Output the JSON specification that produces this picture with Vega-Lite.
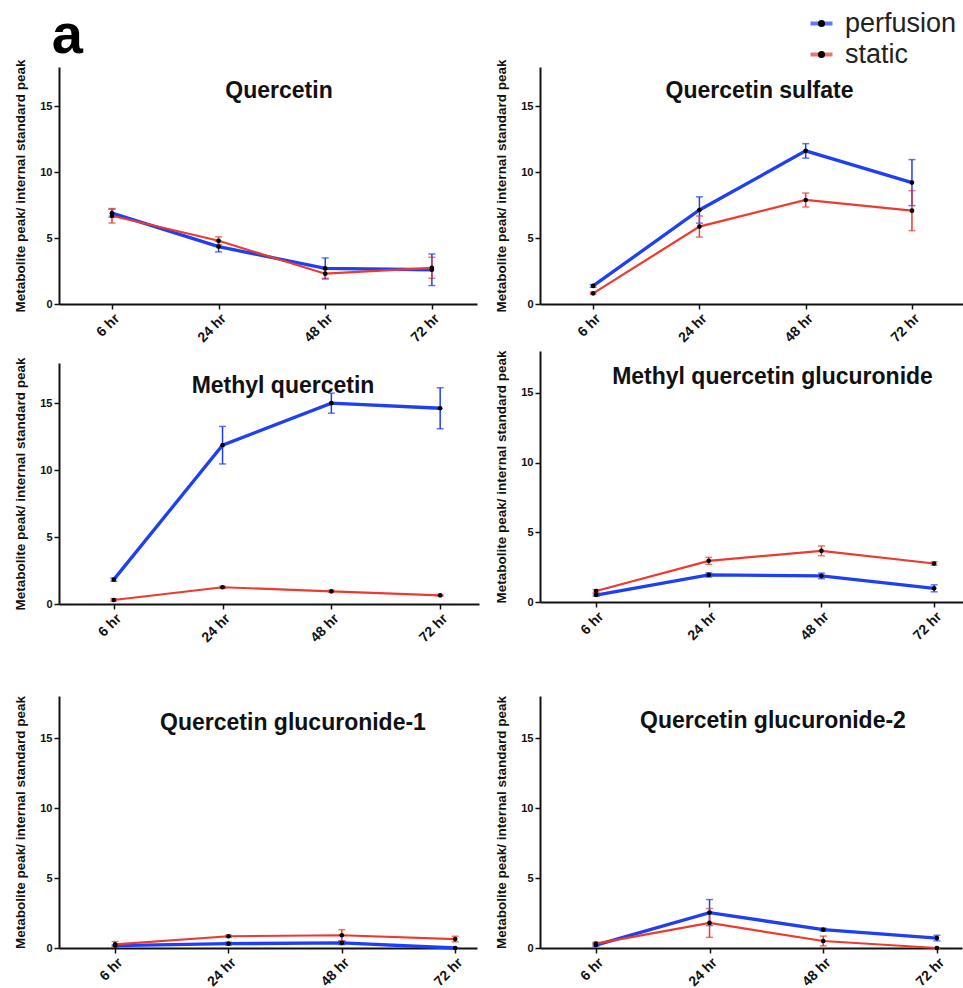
{
  "$schema": "https://vega.github.io/schema/vega-lite/v6.json",
  "background": "white",
  "padding": {"left": 13, "top": 8, "right": 0, "bottom": 0},
  "autosize": {"type": "pad"},
  "title": {"text": "a", "anchor": "start", "fontSize": 56, "fontWeight": "bold", "color": "black", "offset": -55, "dx": 38},
  "data": {"values": [
    {"compound": "Quercetin", "time": "6 hr", "group": "perfusion", "mean": 6.9, "err": 0.3},
    {"compound": "Quercetin", "time": "24 hr", "group": "perfusion", "mean": 4.36, "err": 0.4},
    {"compound": "Quercetin", "time": "48 hr", "group": "perfusion", "mean": 2.7, "err": 0.8},
    {"compound": "Quercetin", "time": "72 hr", "group": "perfusion", "mean": 2.6, "err": 1.2},
    {"compound": "Quercetin", "time": "6 hr", "group": "static", "mean": 6.7, "err": 0.55},
    {"compound": "Quercetin", "time": "24 hr", "group": "static", "mean": 4.8, "err": 0.3},
    {"compound": "Quercetin", "time": "48 hr", "group": "static", "mean": 2.3, "err": 0.35},
    {"compound": "Quercetin", "time": "72 hr", "group": "static", "mean": 2.75, "err": 0.8},
    {"compound": "Quercetin sulfate", "time": "6 hr", "group": "perfusion", "mean": 1.37, "err": 0.1},
    {"compound": "Quercetin sulfate", "time": "24 hr", "group": "perfusion", "mean": 7.14, "err": 1.0},
    {"compound": "Quercetin sulfate", "time": "48 hr", "group": "perfusion", "mean": 11.63, "err": 0.55},
    {"compound": "Quercetin sulfate", "time": "72 hr", "group": "perfusion", "mean": 9.22, "err": 1.75},
    {"compound": "Quercetin sulfate", "time": "6 hr", "group": "static", "mean": 0.81, "err": 0.08},
    {"compound": "Quercetin sulfate", "time": "24 hr", "group": "static", "mean": 5.88, "err": 0.8},
    {"compound": "Quercetin sulfate", "time": "48 hr", "group": "static", "mean": 7.9, "err": 0.53},
    {"compound": "Quercetin sulfate", "time": "72 hr", "group": "static", "mean": 7.09, "err": 1.52},
    {"compound": "Methyl quercetin", "time": "6 hr", "group": "perfusion", "mean": 1.82, "err": 0.12},
    {"compound": "Methyl quercetin", "time": "24 hr", "group": "perfusion", "mean": 11.86, "err": 1.4},
    {"compound": "Methyl quercetin", "time": "48 hr", "group": "perfusion", "mean": 15.0, "err": 0.75},
    {"compound": "Methyl quercetin", "time": "72 hr", "group": "perfusion", "mean": 14.62, "err": 1.53},
    {"compound": "Methyl quercetin", "time": "6 hr", "group": "static", "mean": 0.3, "err": 0.1},
    {"compound": "Methyl quercetin", "time": "24 hr", "group": "static", "mean": 1.25, "err": 0.08},
    {"compound": "Methyl quercetin", "time": "48 hr", "group": "static", "mean": 0.95, "err": 0.08},
    {"compound": "Methyl quercetin", "time": "72 hr", "group": "static", "mean": 0.65, "err": 0.06},
    {"compound": "Methyl quercetin glucuronide", "time": "6 hr", "group": "perfusion", "mean": 0.5, "err": 0.08},
    {"compound": "Methyl quercetin glucuronide", "time": "24 hr", "group": "perfusion", "mean": 1.94, "err": 0.15},
    {"compound": "Methyl quercetin glucuronide", "time": "48 hr", "group": "perfusion", "mean": 1.87, "err": 0.2},
    {"compound": "Methyl quercetin glucuronide", "time": "72 hr", "group": "perfusion", "mean": 0.98, "err": 0.25},
    {"compound": "Methyl quercetin glucuronide", "time": "6 hr", "group": "static", "mean": 0.79, "err": 0.1},
    {"compound": "Methyl quercetin glucuronide", "time": "24 hr", "group": "static", "mean": 2.95, "err": 0.25},
    {"compound": "Methyl quercetin glucuronide", "time": "48 hr", "group": "static", "mean": 3.67, "err": 0.35},
    {"compound": "Methyl quercetin glucuronide", "time": "72 hr", "group": "static", "mean": 2.76, "err": 0.12},
    {"compound": "Quercetin glucuronide-1", "time": "6 hr", "group": "perfusion", "mean": 0.17, "err": 0.05},
    {"compound": "Quercetin glucuronide-1", "time": "24 hr", "group": "perfusion", "mean": 0.31, "err": 0.1},
    {"compound": "Quercetin glucuronide-1", "time": "48 hr", "group": "perfusion", "mean": 0.36, "err": 0.12},
    {"compound": "Quercetin glucuronide-1", "time": "72 hr", "group": "perfusion", "mean": 0.0, "err": 0.02},
    {"compound": "Quercetin glucuronide-1", "time": "6 hr", "group": "static", "mean": 0.26, "err": 0.2},
    {"compound": "Quercetin glucuronide-1", "time": "24 hr", "group": "static", "mean": 0.84, "err": 0.08},
    {"compound": "Quercetin glucuronide-1", "time": "48 hr", "group": "static", "mean": 0.91, "err": 0.4},
    {"compound": "Quercetin glucuronide-1", "time": "72 hr", "group": "static", "mean": 0.64, "err": 0.2},
    {"compound": "Quercetin glucuronide-2", "time": "6 hr", "group": "perfusion", "mean": 0.21, "err": 0.1},
    {"compound": "Quercetin glucuronide-2", "time": "24 hr", "group": "perfusion", "mean": 2.53, "err": 0.93},
    {"compound": "Quercetin glucuronide-2", "time": "48 hr", "group": "perfusion", "mean": 1.31, "err": 0.1},
    {"compound": "Quercetin glucuronide-2", "time": "72 hr", "group": "perfusion", "mean": 0.71, "err": 0.2},
    {"compound": "Quercetin glucuronide-2", "time": "6 hr", "group": "static", "mean": 0.31, "err": 0.1},
    {"compound": "Quercetin glucuronide-2", "time": "24 hr", "group": "static", "mean": 1.79, "err": 1.03},
    {"compound": "Quercetin glucuronide-2", "time": "48 hr", "group": "static", "mean": 0.5, "err": 0.35},
    {"compound": "Quercetin glucuronide-2", "time": "72 hr", "group": "static", "mean": 0.0, "err": 0.02}
  ]},
  "spacing": 15,
  "hconcat": [
    {
      "spacing": 12,
      "vconcat": [
        {
          "width": 418, "height": 237,
          "title": {"text": "Quercetin", "offset": -44, "dx": 11},
          "transform": [{"filter": {"field": "compound", "equal": "Quercetin"}}],
          "encoding": {
            "x": {"field": "time", "type": "ordinal", "sort": ["6 hr", "24 hr", "48 hr", "72 hr"], "scale": {"type": "point", "padding": 0.46, "align": 0.54}, "title": null},
            "y": {"field": "mean", "type": "quantitative", "scale": {"domain": [0, 18], "nice": false}, "axis": {"values": [0, 5, 10, 15], "title": "Metabolite peak/ internal standard peak"}}
          },
          "layer": [
            {"mark": {"type": "errorbar", "ticks": {"size": 7, "thickness": 1.5}, "thickness": 1.5}, "encoding": {"yError": {"field": "err"}, "color": {"field": "group", "type": "nominal", "scale": {"domain": ["perfusion", "static"], "range": ["#1f3ff5", "#ee3a2e"]}}}},
            {"transform": [{"filter": {"field": "group", "equal": "perfusion"}}], "mark": {"type": "line", "strokeWidth": 3.3}, "encoding": {"color": {"field": "group", "type": "nominal", "scale": {"domain": ["perfusion", "static"], "range": ["#1f3ff5", "#ee3a2e"]}, "legend": {"orient": "none", "legendX": 749, "legendY": -57, "title": null, "symbolType": "stroke", "symbolSize": 484, "symbolStrokeWidth": 4, "labelFontSize": 27, "labelColor": "#222", "labelFont": "Liberation Sans", "rowPadding": 3, "labelOffset": 10, "padding": 0}}}},
            {"transform": [{"filter": {"field": "group", "equal": "static"}}], "mark": {"type": "line", "strokeWidth": 2.2}, "encoding": {"color": {"field": "group", "type": "nominal", "scale": {"domain": ["perfusion", "static"], "range": ["#1f3ff5", "#ee3a2e"]}, "legend": {"orient": "none", "legendX": 749, "legendY": -57, "title": null, "symbolType": "stroke", "symbolSize": 484, "symbolStrokeWidth": 4, "labelFontSize": 27, "labelColor": "#222", "labelFont": "Liberation Sans", "rowPadding": 3, "labelOffset": 10, "padding": 0}}}},
            {"mark": {"type": "point", "filled": true, "color": "black", "size": 22, "opacity": 1}, "encoding": {"shape": {"field": "group", "type": "nominal", "scale": {"range": ["circle", "circle"]}, "legend": {"orient": "none", "legendX": 749, "legendY": -57, "title": null, "symbolType": "circle", "symbolSize": 50, "symbolFillColor": "black", "symbolStrokeColor": "black", "symbolStrokeWidth": 0, "labelFontSize": 27, "labelOpacity": 0, "labelExpr": "' '", "rowPadding": 3, "padding": 0}}}}
          ]
        },
        {
          "spacing": 50,
          "vconcat": [
            {
              "width": 420, "height": 241,
              "title": {"text": "Methyl quercetin", "offset": -41, "dx": 14},
              "transform": [{"filter": {"field": "compound", "equal": "Methyl quercetin"}}],
              "encoding": {
                "x": {"field": "time", "type": "ordinal", "sort": ["6 hr", "24 hr", "48 hr", "72 hr"], "scale": {"type": "point", "padding": 0.43, "align": 0.585}, "title": null},
                "y": {"field": "mean", "type": "quantitative", "scale": {"domain": [0, 18], "nice": false}, "axis": {"values": [0, 5, 10, 15], "title": "Metabolite peak/ internal standard peak"}}
              },
              "layer": [
                {"mark": {"type": "errorbar", "ticks": {"size": 7, "thickness": 1.5}, "thickness": 1.5}, "encoding": {"yError": {"field": "err"}, "color": {"field": "group", "type": "nominal", "scale": {"domain": ["perfusion", "static"], "range": ["#1f3ff5", "#ee3a2e"]}}}},
                {"transform": [{"filter": {"field": "group", "equal": "perfusion"}}], "mark": {"type": "line", "strokeWidth": 3.3}, "encoding": {"color": {"field": "group", "type": "nominal", "scale": {"domain": ["perfusion", "static"], "range": ["#1f3ff5", "#ee3a2e"]}, "legend": {"orient": "none", "legendX": 749, "legendY": -57, "title": null, "symbolType": "stroke", "symbolSize": 484, "symbolStrokeWidth": 4, "labelFontSize": 27, "labelColor": "#222", "labelFont": "Liberation Sans", "rowPadding": 3, "labelOffset": 10, "padding": 0}}}},
                {"transform": [{"filter": {"field": "group", "equal": "static"}}], "mark": {"type": "line", "strokeWidth": 2.2}, "encoding": {"color": {"field": "group", "type": "nominal", "scale": {"domain": ["perfusion", "static"], "range": ["#1f3ff5", "#ee3a2e"]}, "legend": {"orient": "none", "legendX": 749, "legendY": -57, "title": null, "symbolType": "stroke", "symbolSize": 484, "symbolStrokeWidth": 4, "labelFontSize": 27, "labelColor": "#222", "labelFont": "Liberation Sans", "rowPadding": 3, "labelOffset": 10, "padding": 0}}}},
                {"mark": {"type": "point", "filled": true, "color": "black", "size": 22, "opacity": 1}, "encoding": {"shape": {"field": "group", "type": "nominal", "scale": {"range": ["circle", "circle"]}, "legend": {"orient": "none", "legendX": 749, "legendY": -57, "title": null, "symbolType": "circle", "symbolSize": 50, "symbolFillColor": "black", "symbolStrokeColor": "black", "symbolStrokeWidth": 0, "labelFontSize": 27, "labelOpacity": 0, "labelExpr": "' '", "rowPadding": 3, "padding": 0}}}}
              ]
            },
            {
              "width": 418, "height": 252,
              "title": {"text": "Quercetin glucuronide-1", "offset": -39, "dx": 25},
              "transform": [{"filter": {"field": "compound", "equal": "Quercetin glucuronide-1"}}],
              "encoding": {
                "x": {"field": "time", "type": "ordinal", "sort": ["6 hr", "24 hr", "48 hr", "72 hr"], "scale": {"type": "point", "padding": 0.344, "align": 0.72}, "title": null},
                "y": {"field": "mean", "type": "quantitative", "scale": {"domain": [0, 18], "nice": false}, "axis": {"values": [0, 5, 10, 15], "title": "Metabolite peak/ internal standard peak"}}
              },
              "layer": [
                {"mark": {"type": "errorbar", "ticks": {"size": 7, "thickness": 1.5}, "thickness": 1.5}, "encoding": {"yError": {"field": "err"}, "color": {"field": "group", "type": "nominal", "scale": {"domain": ["perfusion", "static"], "range": ["#1f3ff5", "#ee3a2e"]}}}},
                {"transform": [{"filter": {"field": "group", "equal": "perfusion"}}], "mark": {"type": "line", "strokeWidth": 3.3}, "encoding": {"color": {"field": "group", "type": "nominal", "scale": {"domain": ["perfusion", "static"], "range": ["#1f3ff5", "#ee3a2e"]}, "legend": {"orient": "none", "legendX": 749, "legendY": -57, "title": null, "symbolType": "stroke", "symbolSize": 484, "symbolStrokeWidth": 4, "labelFontSize": 27, "labelColor": "#222", "labelFont": "Liberation Sans", "rowPadding": 3, "labelOffset": 10, "padding": 0}}}},
                {"transform": [{"filter": {"field": "group", "equal": "static"}}], "mark": {"type": "line", "strokeWidth": 2.2}, "encoding": {"color": {"field": "group", "type": "nominal", "scale": {"domain": ["perfusion", "static"], "range": ["#1f3ff5", "#ee3a2e"]}, "legend": {"orient": "none", "legendX": 749, "legendY": -57, "title": null, "symbolType": "stroke", "symbolSize": 484, "symbolStrokeWidth": 4, "labelFontSize": 27, "labelColor": "#222", "labelFont": "Liberation Sans", "rowPadding": 3, "labelOffset": 10, "padding": 0}}}},
                {"mark": {"type": "point", "filled": true, "color": "black", "size": 22, "opacity": 1}, "encoding": {"shape": {"field": "group", "type": "nominal", "scale": {"range": ["circle", "circle"]}, "legend": {"orient": "none", "legendX": 749, "legendY": -57, "title": null, "symbolType": "circle", "symbolSize": 50, "symbolFillColor": "black", "symbolStrokeColor": "black", "symbolStrokeWidth": 0, "labelFontSize": 27, "labelOpacity": 0, "labelExpr": "' '", "rowPadding": 3, "padding": 0}}}}
              ]
            }
          ]
        }
      ]
    },
    {
      "spacing": 5,
      "vconcat": [
        {
          "width": 423, "height": 237,
          "title": {"text": "Quercetin sulfate", "offset": -44, "dx": 8},
          "transform": [{"filter": {"field": "compound", "equal": "Quercetin sulfate"}}],
          "encoding": {
            "x": {"field": "time", "type": "ordinal", "sort": ["6 hr", "24 hr", "48 hr", "72 hr"], "scale": {"type": "point", "padding": 0.49, "align": 0.51}, "title": null},
            "y": {"field": "mean", "type": "quantitative", "scale": {"domain": [0, 18], "nice": false}, "axis": {"values": [0, 5, 10, 15], "title": "Metabolite peak/ internal standard peak"}}
          },
          "layer": [
            {"mark": {"type": "errorbar", "ticks": {"size": 7, "thickness": 1.5}, "thickness": 1.5}, "encoding": {"yError": {"field": "err"}, "color": {"field": "group", "type": "nominal", "scale": {"domain": ["perfusion", "static"], "range": ["#1f3ff5", "#ee3a2e"]}}}},
            {"transform": [{"filter": {"field": "group", "equal": "perfusion"}}], "mark": {"type": "line", "strokeWidth": 3.3}, "encoding": {"color": {"field": "group", "type": "nominal", "scale": {"domain": ["perfusion", "static"], "range": ["#1f3ff5", "#ee3a2e"]}, "legend": {"orient": "none", "legendX": 749, "legendY": -57, "title": null, "symbolType": "stroke", "symbolSize": 484, "symbolStrokeWidth": 4, "labelFontSize": 27, "labelColor": "#222", "labelFont": "Liberation Sans", "rowPadding": 3, "labelOffset": 10, "padding": 0}}}},
            {"transform": [{"filter": {"field": "group", "equal": "static"}}], "mark": {"type": "line", "strokeWidth": 2.2}, "encoding": {"color": {"field": "group", "type": "nominal", "scale": {"domain": ["perfusion", "static"], "range": ["#1f3ff5", "#ee3a2e"]}, "legend": {"orient": "none", "legendX": 749, "legendY": -57, "title": null, "symbolType": "stroke", "symbolSize": 484, "symbolStrokeWidth": 4, "labelFontSize": 27, "labelColor": "#222", "labelFont": "Liberation Sans", "rowPadding": 3, "labelOffset": 10, "padding": 0}}}},
            {"mark": {"type": "point", "filled": true, "color": "black", "size": 22, "opacity": 1}, "encoding": {"shape": {"field": "group", "type": "nominal", "scale": {"range": ["circle", "circle"]}, "legend": {"orient": "none", "legendX": 749, "legendY": -57, "title": null, "symbolType": "circle", "symbolSize": 50, "symbolFillColor": "black", "symbolStrokeColor": "black", "symbolStrokeWidth": 0, "labelFontSize": 27, "labelOpacity": 0, "labelExpr": "' '", "rowPadding": 3, "padding": 0}}}}
          ]
        },
        {
          "spacing": 52,
          "vconcat": [
            {
              "width": 423, "height": 251,
              "title": {"text": "Methyl quercetin glucuronide", "offset": -39, "dx": 21},
              "transform": [{"filter": {"field": "compound", "equal": "Methyl quercetin glucuronide"}}],
              "encoding": {
                "x": {"field": "time", "type": "ordinal", "sort": ["6 hr", "24 hr", "48 hr", "72 hr"], "scale": {"type": "point", "padding": 0.377, "align": 0.66}, "title": null},
                "y": {"field": "mean", "type": "quantitative", "scale": {"domain": [0, 18], "nice": false}, "axis": {"values": [0, 5, 10, 15], "title": "Metabolite peak/ internal standard peak"}}
              },
              "layer": [
                {"mark": {"type": "errorbar", "ticks": {"size": 7, "thickness": 1.5}, "thickness": 1.5}, "encoding": {"yError": {"field": "err"}, "color": {"field": "group", "type": "nominal", "scale": {"domain": ["perfusion", "static"], "range": ["#1f3ff5", "#ee3a2e"]}}}},
                {"transform": [{"filter": {"field": "group", "equal": "perfusion"}}], "mark": {"type": "line", "strokeWidth": 3.3}, "encoding": {"color": {"field": "group", "type": "nominal", "scale": {"domain": ["perfusion", "static"], "range": ["#1f3ff5", "#ee3a2e"]}, "legend": {"orient": "none", "legendX": 749, "legendY": -57, "title": null, "symbolType": "stroke", "symbolSize": 484, "symbolStrokeWidth": 4, "labelFontSize": 27, "labelColor": "#222", "labelFont": "Liberation Sans", "rowPadding": 3, "labelOffset": 10, "padding": 0}}}},
                {"transform": [{"filter": {"field": "group", "equal": "static"}}], "mark": {"type": "line", "strokeWidth": 2.2}, "encoding": {"color": {"field": "group", "type": "nominal", "scale": {"domain": ["perfusion", "static"], "range": ["#1f3ff5", "#ee3a2e"]}, "legend": {"orient": "none", "legendX": 749, "legendY": -57, "title": null, "symbolType": "stroke", "symbolSize": 484, "symbolStrokeWidth": 4, "labelFontSize": 27, "labelColor": "#222", "labelFont": "Liberation Sans", "rowPadding": 3, "labelOffset": 10, "padding": 0}}}},
                {"mark": {"type": "point", "filled": true, "color": "black", "size": 22, "opacity": 1}, "encoding": {"shape": {"field": "group", "type": "nominal", "scale": {"range": ["circle", "circle"]}, "legend": {"orient": "none", "legendX": 749, "legendY": -57, "title": null, "symbolType": "circle", "symbolSize": 50, "symbolFillColor": "black", "symbolStrokeColor": "black", "symbolStrokeWidth": 0, "labelFontSize": 27, "labelOpacity": 0, "labelExpr": "' '", "rowPadding": 3, "padding": 0}}}}
              ]
            },
            {
              "width": 422, "height": 252,
              "title": {"text": "Quercetin glucuronide-2", "offset": -37, "dx": 22},
              "transform": [{"filter": {"field": "compound", "equal": "Quercetin glucuronide-2"}}],
              "encoding": {
                "x": {"field": "time", "type": "ordinal", "sort": ["6 hr", "24 hr", "48 hr", "72 hr"], "scale": {"type": "point", "padding": 0.356, "align": 0.69}, "title": null},
                "y": {"field": "mean", "type": "quantitative", "scale": {"domain": [0, 18], "nice": false}, "axis": {"values": [0, 5, 10, 15], "title": "Metabolite peak/ internal standard peak"}}
              },
              "layer": [
                {"mark": {"type": "errorbar", "ticks": {"size": 7, "thickness": 1.5}, "thickness": 1.5}, "encoding": {"yError": {"field": "err"}, "color": {"field": "group", "type": "nominal", "scale": {"domain": ["perfusion", "static"], "range": ["#1f3ff5", "#ee3a2e"]}}}},
                {"transform": [{"filter": {"field": "group", "equal": "perfusion"}}], "mark": {"type": "line", "strokeWidth": 3.3}, "encoding": {"color": {"field": "group", "type": "nominal", "scale": {"domain": ["perfusion", "static"], "range": ["#1f3ff5", "#ee3a2e"]}, "legend": {"orient": "none", "legendX": 749, "legendY": -57, "title": null, "symbolType": "stroke", "symbolSize": 484, "symbolStrokeWidth": 4, "labelFontSize": 27, "labelColor": "#222", "labelFont": "Liberation Sans", "rowPadding": 3, "labelOffset": 10, "padding": 0}}}},
                {"transform": [{"filter": {"field": "group", "equal": "static"}}], "mark": {"type": "line", "strokeWidth": 2.2}, "encoding": {"color": {"field": "group", "type": "nominal", "scale": {"domain": ["perfusion", "static"], "range": ["#1f3ff5", "#ee3a2e"]}, "legend": {"orient": "none", "legendX": 749, "legendY": -57, "title": null, "symbolType": "stroke", "symbolSize": 484, "symbolStrokeWidth": 4, "labelFontSize": 27, "labelColor": "#222", "labelFont": "Liberation Sans", "rowPadding": 3, "labelOffset": 10, "padding": 0}}}},
                {"mark": {"type": "point", "filled": true, "color": "black", "size": 22, "opacity": 1}, "encoding": {"shape": {"field": "group", "type": "nominal", "scale": {"range": ["circle", "circle"]}, "legend": {"orient": "none", "legendX": 749, "legendY": -57, "title": null, "symbolType": "circle", "symbolSize": 50, "symbolFillColor": "black", "symbolStrokeColor": "black", "symbolStrokeWidth": 0, "labelFontSize": 27, "labelOpacity": 0, "labelExpr": "' '", "rowPadding": 3, "padding": 0}}}}
              ]
            }
          ]
        }
      ]
    }
  ],
  "config": {
    "font": "Liberation Sans",
    "view": {"stroke": null},
    "axis": {"grid": false, "domainColor": "#111", "domainWidth": 2, "tickColor": "#111", "tickWidth": 1.5, "tickSize": 5, "labelFont": "Liberation Sans", "labelFontWeight": "bold", "labelColor": "#111", "titleFont": "Liberation Sans", "titleFontWeight": "bold", "titleColor": "#111"},
    "axisX": {"labelAngle": -45, "labelFontSize": 14, "labelPadding": 2},
    "axisY": {"labelFontSize": 11, "labelPadding": 2, "titleFontSize": 13.5, "titlePadding": 12},
    "title": {"font": "Liberation Sans", "fontSize": 23, "fontWeight": "bold", "color": "#111", "anchor": "middle"}
  }
}
